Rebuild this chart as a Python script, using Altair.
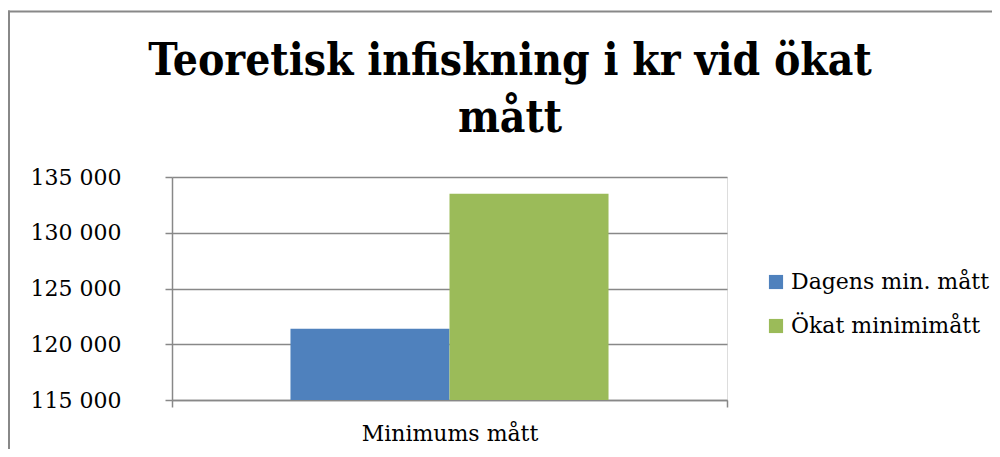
import altair as alt
import pandas as pd

categories = ["Minimums mått", "Minimums mått"]
series = ["Dagens min. mått", "Ökat minimimått"]
values = [121400, 133500]
colors = ["#4F81BD", "#9BBB59"]
y_ticks = [115000, 120000, 125000, 130000, 135000]
title_lines = ["Teoretisk infiskning i kr vid ökat", "mått"]

df = pd.DataFrame({"cat": categories, "series": series, "value": values})
one = pd.DataFrame({"k": [0]})

FONT = "DejaVu Serif"
TFONT = "DejaVu Serif Condensed"
GRAY = "#888888"

bars = alt.Chart(df).mark_bar(clip=True).encode(
    x=alt.X("cat:N", title=None,
            scale=alt.Scale(paddingInner=0, paddingOuter=0),
            axis=alt.Axis(labelAngle=0, labelFontSize=22, labelFont=FONT, labelColor="#000",
                          domainColor=GRAY, domainWidth=1.5, tickColor=GRAY, tickWidth=1.5,
                          tickSize=7, tickBand="extent", labelPadding=16)),
    xOffset=alt.XOffset("series:N", scale=alt.Scale(paddingInner=0, paddingOuter=0.745),
                        sort=series),
    y=alt.Y("value:Q", title=None,
            scale=alt.Scale(domain=[115000, 135000], zero=False, nice=False),
            axis=alt.Axis(values=y_ticks, labelFontSize=22, labelFont=FONT, labelColor="#000",
                          labelExpr="replace(format(datum.value, ','), ',', ' ')",
                          domainColor=GRAY, domainWidth=1.5, tickColor=GRAY, tickWidth=1.5,
                          tickSize=7, gridColor=GRAY, gridWidth=1.5, labelPadding=44)),
    color=alt.Color("series:N", sort=series,
                    scale=alt.Scale(domain=series, range=colors),
                    legend=alt.Legend(title=None, orient="none", legendX=593, legendY=94,
                                      symbolType="square", symbolSize=200, symbolStrokeWidth=0,
                                      labelFontSize=22, labelFont=FONT, labelColor="#000",
                                      labelLimit=400, rowPadding=22, labelOffset=4)),
)

border_left = alt.Chart(one).mark_rule(color=GRAY, strokeWidth=2).encode(
    x=alt.value(-163), y=alt.value(-166.5), y2=alt.value(272))
border_top = alt.Chart(one).mark_rule(color=GRAY, strokeWidth=2).encode(
    x=alt.value(-164), x2=alt.value(820), y=alt.value(-165.5))

title1 = alt.Chart(one).mark_text(font=TFONT, fontSize=44, fontWeight="bold", color="#000",
                                  align="center", baseline="alphabetic").encode(
    x=alt.value(338), y=alt.value(-102), text=alt.value(title_lines[0]))
title2 = alt.Chart(one).mark_text(font=TFONT, fontSize=44, fontWeight="bold", color="#000",
                                  align="center", baseline="alphabetic").encode(
    x=alt.value(338), y=alt.value(-45), text=alt.value(title_lines[1]))

chart = alt.layer(border_left, border_top, bars, title1, title2).properties(
    width=555, height=223,
    autosize=alt.AutoSizeParams(type="none"),
    padding={"left": 164, "top": 169, "right": 265, "bottom": 49},
).configure_view(stroke=None).configure(background="white")

chart.save("out.html", embed_options={"renderer": "svg", "actions": False})
